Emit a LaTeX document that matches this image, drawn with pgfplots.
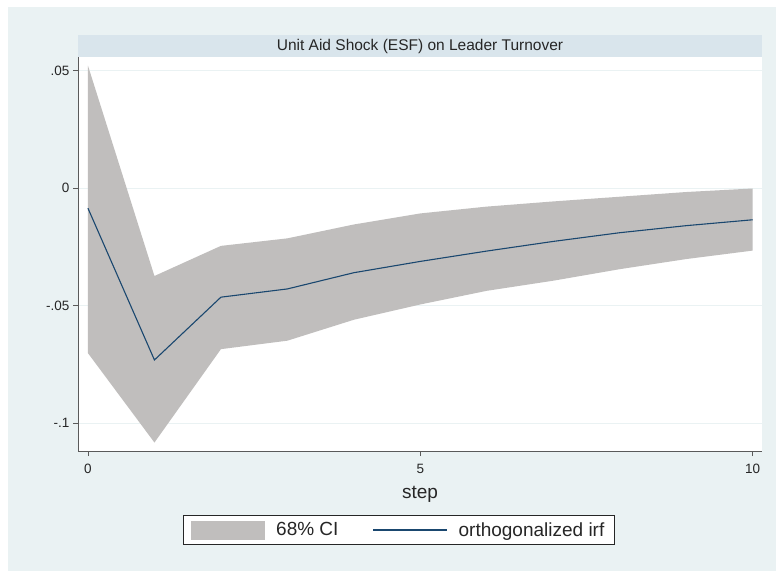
\documentclass[border=0pt]{standalone}
\usepackage{fontspec}
\setmainfont{Liberation Sans}
\usepackage{pgfplots}
\pgfplotsset{compat=1.18}
\usepackage{pgfplotstable}

\definecolor{graphbg}{RGB}{234,242,243}
\definecolor{stripbg}{RGB}{217,229,236}
\definecolor{bandgray}{RGB}{192,190,189}
\definecolor{statanavy}{RGB}{26,71,111}
\definecolor{axisgray}{RGB}{90,90,90}

% orthogonalized irf
\pgfplotstableread{
step irf
0 -0.0086
1 -0.0731
2 -0.0464
3 -0.0429
4 -0.0360
5 -0.0312
6 -0.0268
7 -0.0227
8 -0.0190
9 -0.0160
10 -0.0135
}\irfdata

% 68% CI band: upper bound forward, lower bound back
\pgfplotstableread{
step bound
0 0.052
1 -0.0374
2 -0.0246
3 -0.0214
4 -0.0155
5 -0.0108
6 -0.0079
7 -0.0057
8 -0.0037
9 -0.0017
10 -0.0002
10 -0.0266
9 -0.0302
8 -0.0345
7 -0.0394
6 -0.0437
5 -0.0495
4 -0.0560
3 -0.0649
2 -0.0685
1 -0.1082
0 -0.0702
}\cidata

\begin{document}
\begin{tikzpicture}
% graph region
\path (0pt,0pt) rectangle (776pt,571pt);
\fill[graphbg] (8pt,0pt) rectangle (776pt,564pt);
\fill[stripbg] (78pt,514pt) rectangle (762pt,536pt);
\node[font=\fontsize{15.5}{18}\selectfont, text=black!85] at (420pt,525pt)
    {Unit Aid Shock (ESF) on Leader Turnover};

\begin{axis}[
    at={(78pt,120pt)}, anchor=south west,
    scale only axis, width=684pt, height=394pt,
    xmin=-0.15, xmax=10.14, ymin=-0.1118, ymax=0.0557,
    axis background/.style={fill=white},
    axis lines*=left,
    axis line style={axisgray, line width=0.8pt},
    xtick={0,5,10}, xticklabels={0,5,10},
    ytick={-0.1,-0.05,0,0.05}, yticklabels={-.1,-.05,0,.05},
    tick align=outside, major tick length=5pt,
    tick style={axisgray, line width=0.8pt},
    ymajorgrids, grid style={graphbg, line width=0.8pt},
    ticklabel style={font=\fontsize{13.5}{16}\selectfont, text=black!85},
    xticklabel style={yshift=-5pt},
    xlabel={step},
    xlabel style={at={(axis description cs:0.5,-0.11)}, anchor=center,
        font=\fontsize{19}{22}\selectfont, text=black!85},
    legend columns=2,
    legend style={at={(axis description cs:0.469,-0.2005)}, anchor=center,
        draw=black!85, line width=0.8pt, fill=white,
        inner xsep=8pt, inner ysep=5pt,
        font=\fontsize{19}{22}\selectfont, text=black!85,
        /tikz/every odd column/.append style={column sep=9pt},
        /tikz/every even column/.append style={column sep=32pt}},
]
\addplot[fill=bandgray, draw=none,
    legend image code/.code={\fill[bandgray] (0pt,-9.5pt) rectangle (74pt,9.5pt);}]
    table[x=step, y=bound] {\cidata} -- cycle;
\addlegendentry{68\% CI}
\addplot[statanavy, line width=1.1pt,
    legend image code/.code={\draw[statanavy, line width=1.1pt] (0pt,0pt) -- (74pt,0pt);}]
    table[x=step, y=irf] {\irfdata};
\addlegendentry{orthogonalized irf}
\end{axis}
\end{tikzpicture}
\end{document}
